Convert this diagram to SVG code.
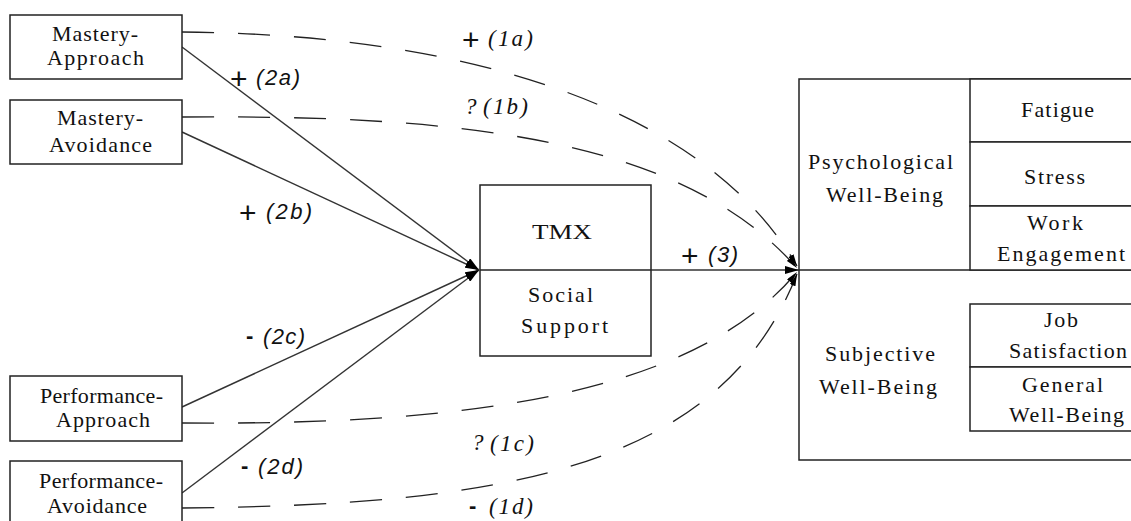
<svg xmlns="http://www.w3.org/2000/svg" width="1131" height="521" viewBox="0 0 1131 521">
<style>
.box{fill:#fff;stroke:#222;stroke-width:1.5}
.ln{fill:none;stroke:#222;stroke-width:1.5}
.t{font-family:"Liberation Serif","Times New Roman",serif;font-size:22px;fill:#111}
.sol{fill:none;stroke:#333;stroke-width:1.4;marker-end:url(#ah)}
.dash{fill:none;stroke:#222;stroke-width:1.3;stroke-dasharray:32 24;marker-end:url(#ah2)}
.lab{font-family:"Liberation Sans",Arial,sans-serif;font-style:italic;font-size:22px;fill:#111}
.labs{font-family:"Liberation Serif","Times New Roman",serif;font-style:italic;font-size:23px;fill:#111}
.plus{font-family:"Liberation Sans",Arial,sans-serif;font-size:30px;fill:#111}
.minus{font-family:"Liberation Sans",Arial,sans-serif;font-weight:bold;font-size:22px;fill:#111}
</style>
<defs>
<marker id="ah" viewBox="0 0 14 8" refX="14" refY="4" markerWidth="14" markerHeight="8" markerUnits="userSpaceOnUse" orient="auto">
<path d="M0,0 L14,4 L0,8 Z" fill="#000"/>
</marker>
<marker id="ah2" viewBox="0 0 12 6" refX="12" refY="3" markerWidth="12" markerHeight="6" markerUnits="userSpaceOnUse" orient="auto">
<path d="M0,0 L12,3 L0,6 Z" fill="#000"/>
</marker>
</defs>
<rect width="1131" height="521" fill="#fff"/>

<g id="connectors">
<path class="sol" d="M182,47 L479,270"/>
<path class="sol" d="M182,132 L479,270"/>
<path class="sol" d="M182,407 L479,270"/>
<path class="sol" d="M182,493 L479,270"/>
<path class="sol" d="M651,270 L799,270"/>
<path class="dash" d="M182,32 C450,34 700,100 797,266"/>
<path class="dash" d="M182,117 C450,115 680,135 797,268"/>
<path class="dash" d="M182,423 C450,425 690,400 797,272"/>
<path class="dash" d="M182,508 C500,505 720,470 797,274"/>
</g>

<g id="mastery-approach">
<rect class="box" x="10" y="15" width="172" height="64"/>
<text class="t" x="52" y="41" textLength="86" lengthAdjust="spacing">Mastery-</text>
<text class="t" x="47" y="65" textLength="97" lengthAdjust="spacing">Approach</text>
</g>
<g id="mastery-avoidance">
<rect class="box" x="10" y="100" width="172" height="64"/>
<text class="t" x="57" y="125" textLength="86" lengthAdjust="spacing">Mastery-</text>
<text class="t" x="49" y="152" textLength="103" lengthAdjust="spacing">Avoidance</text>
</g>
<g id="performance-approach">
<rect class="box" x="10" y="376" width="172" height="65"/>
<text class="t" x="40" y="403" textLength="123" lengthAdjust="spacing">Performance-</text>
<text class="t" x="56" y="427" textLength="94" lengthAdjust="spacing">Approach</text>
</g>
<g id="performance-avoidance">
<rect class="box" x="10" y="461" width="172" height="80"/>
<text class="t" x="39" y="488" textLength="124" lengthAdjust="spacing">Performance-</text>
<text class="t" x="47" y="513" textLength="100" lengthAdjust="spacing">Avoidance</text>
</g>

<g id="tmx">
<rect class="box" x="480" y="185" width="171" height="171"/>
<line class="ln" x1="480" y1="270" x2="651" y2="270"/>
<text class="t" x="532" y="239" textLength="60" lengthAdjust="spacingAndGlyphs">TMX</text>
<text class="t" x="528" y="302" textLength="65" lengthAdjust="spacing">Social</text>
<text class="t" x="521" y="333" textLength="87" lengthAdjust="spacing">Support</text>
</g>

<g id="well-being">
<rect class="box" x="799" y="79" width="340" height="381"/>
<line class="ln" x1="799" y1="270" x2="1139" y2="270"/>
<text class="t" x="808" y="169" textLength="145" lengthAdjust="spacing">Psychological</text>
<text class="t" x="826" y="202" textLength="117" lengthAdjust="spacing">Well-Being</text>
<text class="t" x="825" y="361" textLength="110" lengthAdjust="spacing">Subjective</text>
<text class="t" x="819" y="394" textLength="118" lengthAdjust="spacing">Well-Being</text>
</g>
<g id="fatigue">
<rect class="box" x="970" y="79" width="169" height="63"/>
<text class="t" x="1021" y="117" textLength="73" lengthAdjust="spacing">Fatigue</text>
</g>
<g id="stress">
<rect class="box" x="970" y="142" width="169" height="64"/>
<text class="t" x="1024" y="184" textLength="61" lengthAdjust="spacing">Stress</text>
</g>
<g id="work-engagement">
<rect class="box" x="970" y="206" width="169" height="64"/>
<text class="t" x="1027" y="230" textLength="56" lengthAdjust="spacing">Work</text>
<text class="t" x="997" y="261" textLength="128" lengthAdjust="spacing">Engagement</text>
</g>
<g id="job-satisfaction">
<rect class="box" x="970" y="304" width="169" height="63"/>
<text class="t" x="1044" y="327" textLength="34" lengthAdjust="spacing">Job</text>
<text class="t" x="1009" y="358" textLength="118" lengthAdjust="spacing">Satisfaction</text>
</g>
<g id="general-well-being">
<rect class="box" x="970" y="367" width="169" height="64"/>
<text class="t" x="1022" y="392" textLength="81" lengthAdjust="spacing">General</text>
<text class="t" x="1009" y="422" textLength="115" lengthAdjust="spacing">Well-Being</text>
</g>

<g id="labels">
<text class="plus" x="462" y="50">+</text>
<text class="labs" x="488" y="46" textLength="45" lengthAdjust="spacing">(1a)</text>
<text class="labs" x="465" y="114">?</text>
<text class="labs" x="483" y="114" textLength="45" lengthAdjust="spacing">(1b)</text>
<text class="plus" x="230" y="89">+</text>
<text class="lab" x="256" y="85" textLength="44" lengthAdjust="spacing">(2a)</text>
<text class="plus" x="239" y="223">+</text>
<text class="lab" x="266" y="219" textLength="46" lengthAdjust="spacing">(2b)</text>
<text class="plus" x="681" y="266">+</text>
<text class="lab" x="708" y="262" textLength="30" lengthAdjust="spacing">(3)</text>
<text class="minus" x="246" y="343">-</text>
<text class="lab" x="263" y="344" textLength="42" lengthAdjust="spacing">(2c)</text>
<text class="minus" x="241" y="473">-</text>
<text class="lab" x="258" y="474" textLength="45" lengthAdjust="spacing">(2d)</text>
<text class="labs" x="472" y="450">?</text>
<text class="labs" x="490" y="451" textLength="44" lengthAdjust="spacing">(1c)</text>
<text class="minus" x="469" y="513">-</text>
<text class="labs" x="489" y="514" textLength="44" lengthAdjust="spacing">(1d)</text>
</g>
</svg>
